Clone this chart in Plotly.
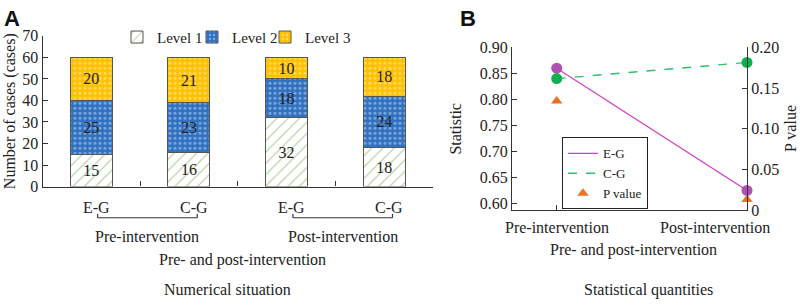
import plotly.graph_objects as go

# ---------------- data ----------------
groups = ["E-G", "C-G", "E-G", "C-G"]
phases = ["Pre-intervention", "Post-intervention"]
level1 = [15, 16, 32, 18]
level2 = [25, 23, 18, 24]
level3 = [20, 21, 10, 18]

stat_x = ["Pre-intervention", "Post-intervention"]
eg_stat = [0.860, 0.625]
cg_stat = [0.840, 0.871]
p_value = [0.134, 0.013]

FONT = "Liberation Serif"
FS = 16
W, H = 800, 308

def px(x):
    return x / W

def py(y):
    return 1 - y / H

fig = go.Figure()

pos = [0, 1, 2, 3]
line_col = "#555555"
bar_common = dict(width=0.43, marker_line_color=line_col, marker_line_width=1,
                  texttemplate="%{y}", textposition="inside", insidetextanchor="middle",
                  textangle=0, constraintext="none",
                  textfont=dict(family=FONT, size=FS, color="#222222"),
                  xaxis="x", yaxis="y", cliponaxis=False)

fig.add_trace(go.Bar(x=pos, y=level1, name="Level 1", legend="legend",
                     marker=dict(color="white",
                                 pattern=dict(shape="/", fgcolor="#70a850", bgcolor="white",
                                              size=8, solidity=0.15)),
                     **bar_common))
fig.add_trace(go.Bar(x=pos, y=level2, name="Level 2", legend="legend3",
                     marker=dict(color="#3070c0",
                                 pattern=dict(shape=".", fgcolor="#e0ecf8", bgcolor="#3070c0",
                                              size=5, solidity=0.25)),
                     **bar_common))
fig.add_trace(go.Bar(x=pos, y=level3, name="Level 3", legend="legend4",
                     marker=dict(color="#ffc000",
                                 pattern=dict(shape=".", fgcolor="#fff6d6", bgcolor="#ffc000",
                                              size=5, solidity=0.25)),
                     **bar_common))

# ---------------- panel B ----------------
fig.add_trace(go.Scatter(x=[0, 1], y=eg_stat, mode="lines", name="E-G",
                         line=dict(color="#d040c0", width=1.2),
                         xaxis="x2", yaxis="y2", legend="legend2"))
fig.add_trace(go.Scatter(x=[0, 1], y=cg_stat, mode="lines", name="C-G",
                         line=dict(color="#30c070", width=1.4, dash="dash"),
                         xaxis="x2", yaxis="y2", legend="legend2"))
fig.add_trace(go.Scatter(x=[0, 1], y=eg_stat, mode="markers", showlegend=False,
                         marker=dict(color="#b050b0", size=11),
                         xaxis="x2", yaxis="y2", cliponaxis=False))
fig.add_trace(go.Scatter(x=[0, 1], y=cg_stat, mode="markers", showlegend=False,
                         marker=dict(color="#10b050", size=11),
                         xaxis="x2", yaxis="y2", cliponaxis=False))
fig.add_trace(go.Scatter(x=[0, 1], y=p_value, mode="markers", name="P value",
                         marker=dict(color="#f07020", symbol="triangle-up", size=10),
                         xaxis="x2", yaxis="y3", legend="legend2", cliponaxis=False))

tickfont = dict(family=FONT, size=FS, color="#222222")
axis_common = dict(showline=True, linecolor="#333333", linewidth=1.2, ticks="inside",
                   ticklen=5, tickcolor="#333333", showgrid=False, zeroline=False,
                   tickfont=tickfont)

leg_a = dict(orientation="h", yanchor="middle", xanchor="left", y=py(31),
             font=dict(family=FONT, size=15), bgcolor="rgba(0,0,0,0)", itemwidth=30)

fig.update_layout(
    width=W, height=H,
    margin=dict(l=0, r=0, t=0, b=0),
    paper_bgcolor="white", plot_bgcolor="rgba(0,0,0,0)",
    barmode="stack",
    font=dict(family=FONT, size=FS, color="#222222"),
    xaxis=dict(domain=[px(42.5), px(433)], range=[-0.5, 3.5],
               tickvals=[0.5, 1.5, 2.5, 3.5], ticktext=["", "", "", ""],
               **axis_common),
    yaxis=dict(domain=[py(189), py(29.5)], range=[0, 70], dtick=10,
               title=dict(text="Number of cases (cases)", font=dict(family=FONT, size=FS),
                          standoff=2),
               anchor="x", **axis_common),
    xaxis2=dict(domain=[px(512), px(747)], range=[-0.235, 1.0],
                tickvals=[0, 1], ticktext=["", ""], anchor="y2", **axis_common),
    yaxis2=dict(domain=[py(214), py(41.7)], range=[0.587, 0.90],
                tickvals=[0.60, 0.65, 0.70, 0.75, 0.80, 0.85, 0.90], tickformat=".2f",
                title=dict(text="Statistic", font=dict(family=FONT, size=FS), standoff=14),
                anchor="x2", **axis_common),
    yaxis3=dict(domain=[py(214), py(41.7)], range=[0, 0.20], overlaying="y2", side="right",
                tickvals=[0, 0.05, 0.10, 0.15, 0.20], ticktext=["0", "0.05", "0.10", "0.15", "0.20"],
                anchor="x2", **axis_common),
    legend=dict(x=px(117), **leg_a),
    legend3=dict(x=px(192), **leg_a),
    legend4=dict(x=px(265), **leg_a),
    legend2=dict(x=px(562), y=py(137), xanchor="left", yanchor="top",
                 font=dict(family=FONT, size=13), bgcolor="white",
                 bordercolor="#222222", borderwidth=1, tracegroupgap=0,
                 itemwidth=30),
)

ann = []
font_a = dict(family=FONT, size=FS, color="#222222")
# Panel A category labels
for i, g in enumerate(groups):
    ann.append(dict(x=i + 0.05, y=py(211), xref="x", yref="paper", text=g, showarrow=False,
                    font=font_a, xanchor="center", yanchor="middle"))
# group brackets and labels
for k, ph in enumerate(phases):
    x0, x1 = 2 * k + 0.065, 2 * k + 1.085
    fig.add_shape(type="line", xref="x", yref="paper", x0=x0, x1=x1, y0=py(222), y1=py(222),
                  line=dict(color="#333333", width=1.2))
    for xx in (x0, x1):
        fig.add_shape(type="line", xref="x", yref="paper", x0=xx, x1=xx, y0=py(222), y1=py(218),
                      line=dict(color="#333333", width=1.2))
    ann.append(dict(x=(x0 + x1) / 2, y=py(242), xref="x", yref="paper", text=ph,
                    showarrow=False, font=font_a, xanchor="center", yanchor="middle"))
ann.append(dict(x=px(242), y=py(267), xref="paper", yref="paper", text="Pre- and post-intervention",
                showarrow=False, font=font_a, xanchor="center", yanchor="middle"))
ann.append(dict(x=px(228), y=py(298), xref="paper", yref="paper", text="Numerical situation",
                showarrow=False, font=font_a, xanchor="center", yanchor="middle"))
ann.append(dict(x=px(2), y=py(11), xref="paper", yref="paper", text="<b>A</b>",
                showarrow=False, xanchor="left", yanchor="middle",
                font=dict(family="Liberation Sans", size=22, color="#111111")))
ann.append(dict(x=px(458), y=py(11), xref="paper", yref="paper", text="<b>B</b>",
                showarrow=False, xanchor="left", yanchor="middle",
                font=dict(family="Liberation Sans", size=22, color="#111111")))
# Panel B x labels
ann.append(dict(x=0, y=py(232), xref="x2", yref="paper", text=stat_x[0], showarrow=False,
                font=font_a, xanchor="center", yanchor="middle"))
ann.append(dict(x=px(772), y=py(232), xref="paper", yref="paper", text=stat_x[1], showarrow=False,
                font=font_a, xanchor="right", yanchor="middle"))
ann.append(dict(x=px(633), y=py(256), xref="paper", yref="paper", text="Pre- and post-intervention",
                showarrow=False, font=font_a, xanchor="center", yanchor="middle"))
ann.append(dict(x=px(648), y=py(298), xref="paper", yref="paper", text="Statistical quantities",
                showarrow=False, font=font_a, xanchor="center", yanchor="middle"))
# right axis title
ann.append(dict(x=px(791), y=py(128), xref="paper", yref="paper", text="P value", showarrow=False,
                textangle=-90, font=font_a, xanchor="center", yanchor="middle"))
fig.update_layout(annotations=ann)

fig.write_html("out.html", config={"displayModeBar": False},
               post_script="document.body.style.margin='0';")
